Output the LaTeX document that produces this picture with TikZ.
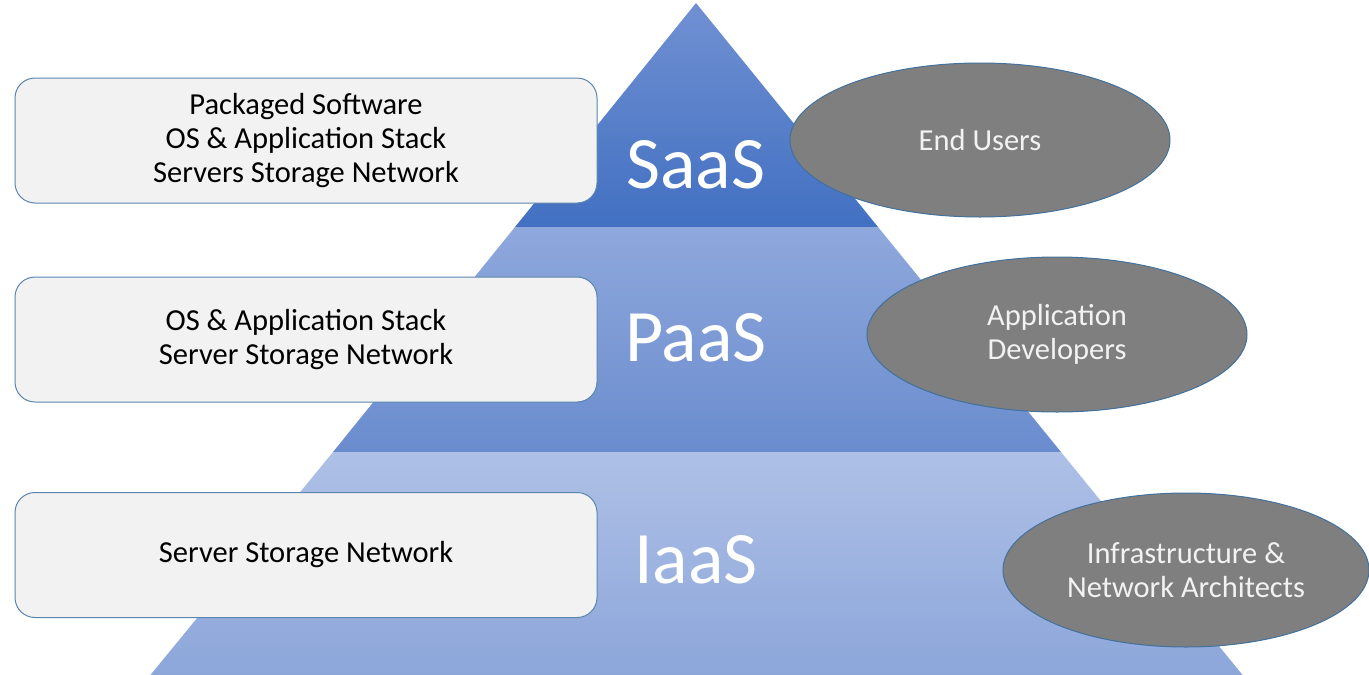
\documentclass[tikz,border=0pt]{standalone}
\usepackage{fontspec}
\setmainfont{Carlito}
\usetikzlibrary{shapes.geometric}
\definecolor{boxfill}{HTML}{F2F2F2}
\definecolor{boxline}{HTML}{5A86AE}
\definecolor{ellfill}{HTML}{7F7F7F}
\definecolor{ellline}{HTML}{41719C}
\definecolor{ellText}{HTML}{F2F2F2}
\definecolor{saasTop}{RGB}{112,144,210}
\definecolor{saasBot}{RGB}{66,112,194}
\definecolor{paasTop}{RGB}{143,168,220}
\definecolor{paasBot}{RGB}{106,140,206}
\definecolor{iaasTop}{RGB}{174,192,230}
\definecolor{iaasBot}{RGB}{140,166,218}
\tikzset{
  layerbox/.style={draw=boxline, line width=1pt, fill=boxfill, rounded corners=20pt,
    minimum width=582pt, minimum height=125pt, align=center, text=black,
    font=\fontsize{30.5}{34}\selectfont, inner sep=0pt},
  userell/.style={ellipse, draw=ellline, line width=1pt, fill=ellfill, align=center,
    text=ellText, font=\fontsize{30.5}{34}\selectfont, inner sep=0pt},
  tierlabel/.style={text=white, font=\fontsize{74}{80}\selectfont, inner sep=0pt}
}
\begin{document}
\begin{tikzpicture}[x=1pt,y=-1pt]
\useasboundingbox (0,0) rectangle (1369,675);
\begin{scope}
\clip (0,0) rectangle (1369,675);
% SaaS band
\path[top color=saasTop, bottom color=saasBot]
  (696,3) -- (878,227) -- (515,227) -- cycle;
% PaaS band
\path[top color=paasTop, bottom color=paasBot]
  (515,227) -- (878,227) -- (1061,452) -- (333,452) -- cycle;
% IaaS band
\path[top color=iaasTop, bottom color=iaasBot]
  (333,452) -- (1061,452) -- (1245,678) -- (148,678) -- cycle;
\end{scope}

\node[tierlabel] (saas) at (696,165) {SaaS};
\node[tierlabel] (paas) at (696,338) {PaaS};
\node[tierlabel] (iaas) at (696,560) {IaaS};

\node[layerbox] (b1) at (306,140.5) {Packaged Software\\OS \& Application Stack\\Servers Storage Network};
\node[layerbox] (b2) at (306,339.5) {OS \& Application Stack\\Server Storage Network};
\node[layerbox] (b3) at (306,555) {Server Storage Network};

\node[userell, minimum width=380pt, minimum height=154pt] (e1) at (980,140) {End Users};
\node[userell, minimum width=380pt, minimum height=155pt] (e2) at (1057,334.5) {Application\\Developers};
\node[userell, minimum width=366pt, minimum height=154pt] (e3) at (1186,570) {Infrastructure \&\\Network Architects};
\end{tikzpicture}
\end{document}
